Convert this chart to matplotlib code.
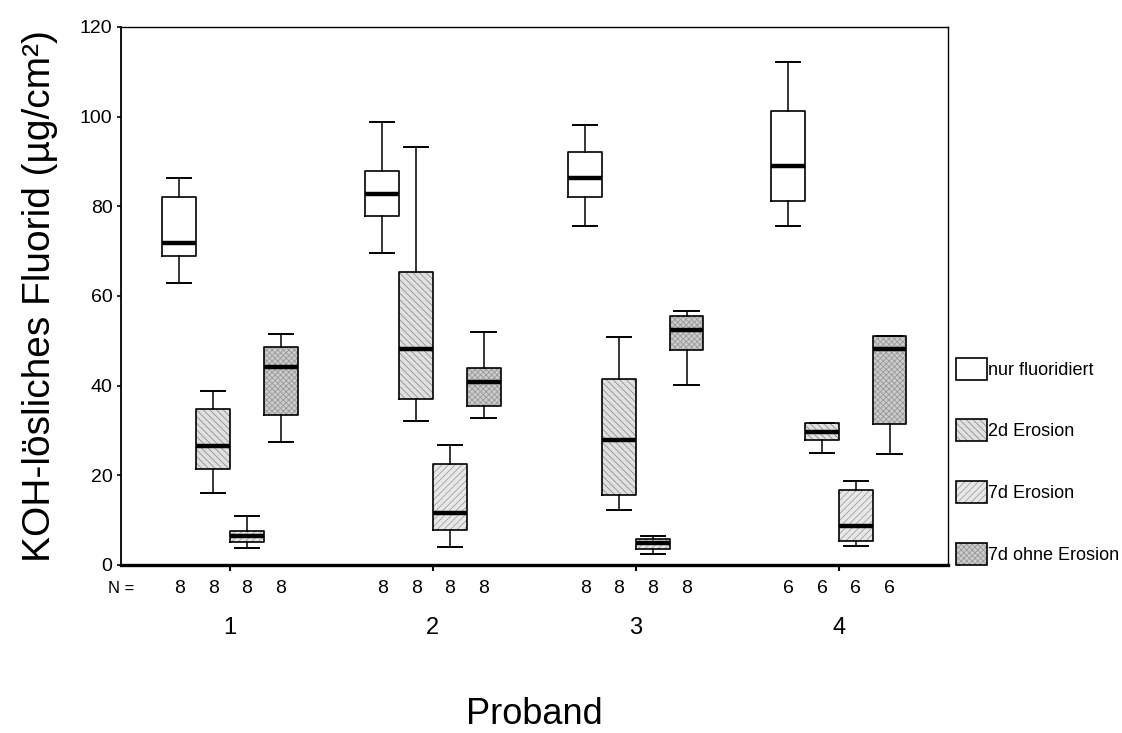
import matplotlib
matplotlib.use("Agg")
import matplotlib.pyplot as plt
from matplotlib.patches import Patch

plt.rcParams['font.family'] = ['Liberation Sans', 'DejaVu Sans']
plt.rcParams['hatch.linewidth'] = 0.6

# data (box plot statistics per Proband 1..4)
probanden = ["1", "2", "3", "4"]
n_counts = [8, 8, 8, 6]
series = ["nur fluoridiert", "2d Erosion", "7d Erosion", "7d ohne Erosion"]

nur_hi = [86.4, 98.9, 98.2, 112.1]
nur_q3 = [82.1, 87.9, 92.2, 101.2]
nur_med = [71.9, 82.8, 86.4, 89.1]
nur_q1 = [69.0, 77.9, 82.1, 81.2]
nur_lo = [62.9, 69.6, 75.7, 75.7]

e2_hi = [38.8, 93.3, 50.9, 31.7]
e2_q3 = [34.8, 65.4, 41.5, 31.7]
e2_med = [26.6, 48.2, 27.9, 29.6]
e2_q1 = [21.4, 37.1, 15.6, 27.9]
e2_lo = [16.1, 32.1, 12.3, 25.0]

e7_hi = [10.9, 26.8, 6.5, 18.7]
e7_q3 = [7.6, 22.5, 5.8, 16.7]
e7_med = [6.5, 11.6, 4.9, 8.7]
e7_q1 = [5.1, 7.8, 3.6, 5.4]
e7_lo = [3.8, 4.0, 2.5, 4.2]

oe_hi = [51.6, 52.0, 56.7, 51.1]
oe_q3 = [48.7, 44.0, 55.6, 51.1]
oe_med = [44.2, 40.8, 52.5, 48.2]
oe_q1 = [33.5, 35.5, 48.0, 31.5]
oe_lo = [27.5, 32.8, 40.2, 24.8]

stats_by_series = [
    (nur_lo, nur_q1, nur_med, nur_q3, nur_hi),
    (e2_lo, e2_q1, e2_med, e2_q3, e2_hi),
    (e7_lo, e7_q1, e7_med, e7_q3, e7_hi),
    (oe_lo, oe_q1, oe_med, oe_q3, oe_hi),
]

# styles
offsets = [-0.25, -0.083, 0.083, 0.25]
box_w = 0.166
cap_w = 0.12
faces = ["white", "#e0e0e0", "#e8e8e8", "#cccccc"]
hatches = [None, "\\\\\\\\\\", "/////", "xxxxxx"]
hatch_edges = ["white", "#909090", "#a0a0a0", "#999999"]

fig = plt.figure(figsize=(11.22, 7.33), dpi=100)
ax = fig.add_axes([0.1078, 0.2292, 0.737, 0.734])

group_x = list(range(1, len(probanden) + 1))
for s, (lo, q1, med, q3, hi) in enumerate(stats_by_series):
    bstats = []
    for i in range(len(probanden)):
        bstats.append({"whislo": lo[i], "q1": q1[i], "med": med[i],
                       "q3": q3[i], "whishi": hi[i], "fliers": []})
    pos = [g + offsets[s] for g in group_x]
    # textured fill layer
    ax.bxp(bstats, positions=pos, widths=box_w, patch_artist=True,
           showcaps=False, manage_ticks=False,
           boxprops=dict(facecolor=faces[s], edgecolor=hatch_edges[s],
                         hatch=hatches[s], linewidth=0),
           whiskerprops=dict(linewidth=0),
           medianprops=dict(linewidth=0))
    # outline, whiskers, median
    ax.bxp(bstats, positions=pos, widths=box_w, capwidths=cap_w,
           manage_ticks=False,
           boxprops=dict(color="black", linewidth=1.2),
           whiskerprops=dict(color="black", linewidth=1.1),
           capprops=dict(color="black", linewidth=1.4),
           medianprops=dict(color="black", linewidth=3.2, solid_capstyle="butt"))

ax.set_xlim(0.463, 4.537)
ax.set_ylim(0, 120)
ax.set_yticks([0, 20, 40, 60, 80, 100, 120])
ax.tick_params(axis="y", labelsize=14, length=3, width=1.2, pad=3)
ax.set_xticks(group_x)
ax.set_xticklabels([])
ax.tick_params(axis="x", length=4, width=1.5)

for side in ["top", "right"]:
    ax.spines[side].set_linewidth(1.0)
ax.spines["left"].set_linewidth(1.3)
ax.spines["bottom"].set_linewidth(2.4)

tr = ax.get_xaxis_transform()
ax.text(0.0, -0.043, "N =", transform=ax.transAxes, ha="center", va="center", fontsize=12)
for g in range(len(probanden)):
    for s in range(len(series)):
        ax.text(group_x[g] + offsets[s], -0.043, str(n_counts[g]), transform=tr,
                ha="center", va="center", fontsize=14)
    ax.text(group_x[g], -0.117, probanden[g], transform=tr,
            ha="center", va="center", fontsize=17)

ax.set_ylabel("KOH-lösliches Fluorid (µg/cm²)", fontsize=28, labelpad=16)
fig.text(0.476, 0.012, "Proband", ha="center", va="baseline", fontsize=26)

handles = []
for s in range(len(series)):
    fill = Patch(facecolor=faces[s], edgecolor=hatch_edges[s], hatch=hatches[s], linewidth=0)
    outline = Patch(facecolor="none", edgecolor="black", linewidth=1.2)
    handles.append((fill, outline))
fig.legend(handles, series, loc="upper left", bbox_to_anchor=(0.852, 0.512),
           frameon=False, fontsize=13, handlelength=1.7, handleheight=1.5,
           labelspacing=2.2, handletextpad=0.1, borderpad=0, borderaxespad=0)

fig.savefig("out.png", dpi=100, facecolor="white")
